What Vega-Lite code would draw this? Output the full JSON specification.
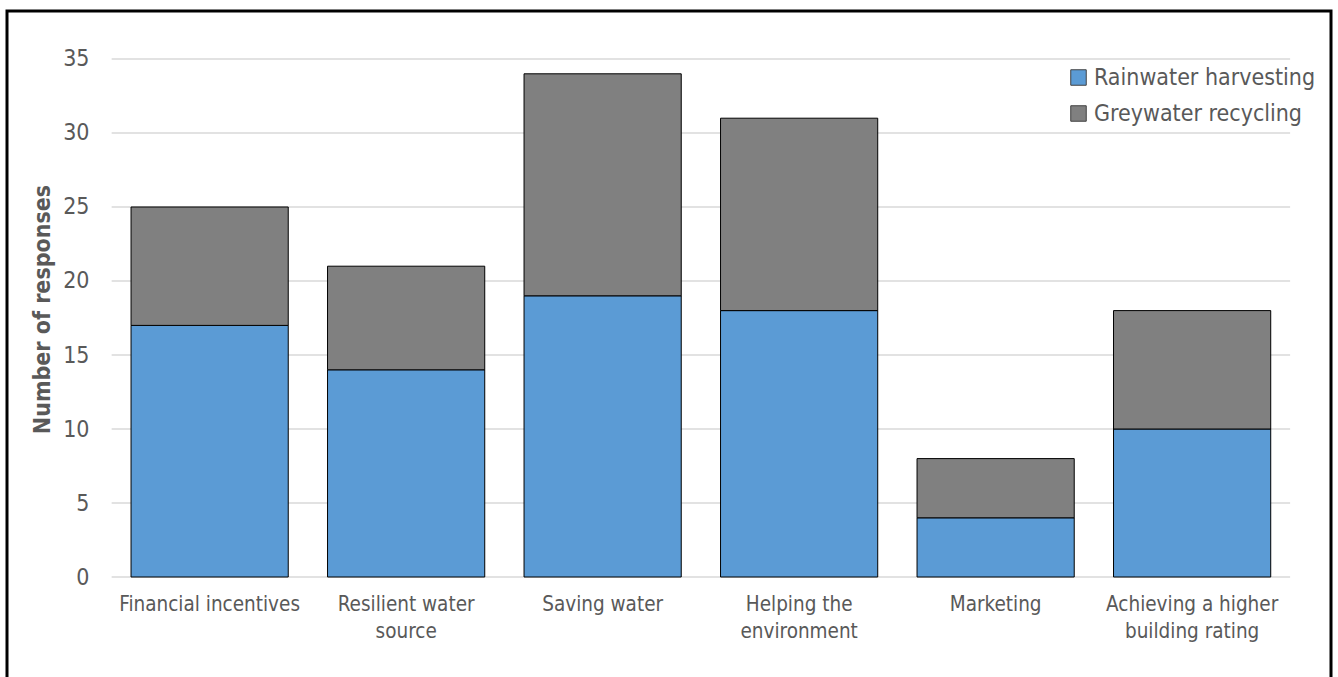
{
  "$schema": "https://vega.github.io/schema/vega-lite/v6.json",
  "width": 1324,
  "height": 681,
  "autosize": {"type": "none"},
  "padding": {"left": 7, "top": 11, "right": 7, "bottom": 0},
  "background": "white",
  "view": {"stroke": "black", "strokeWidth": 3, "fill": "white"},
  "datasets": {
    "responses": [
      {"reason": "Financial incentives", "system": "Rainwater harvesting", "count": 17},
      {"reason": "Financial incentives", "system": "Greywater recycling", "count": 8},
      {"reason": "Resilient water source", "system": "Rainwater harvesting", "count": 14},
      {"reason": "Resilient water source", "system": "Greywater recycling", "count": 7},
      {"reason": "Saving water", "system": "Rainwater harvesting", "count": 19},
      {"reason": "Saving water", "system": "Greywater recycling", "count": 15},
      {"reason": "Helping the environment", "system": "Rainwater harvesting", "count": 18},
      {"reason": "Helping the environment", "system": "Greywater recycling", "count": 13},
      {"reason": "Marketing", "system": "Rainwater harvesting", "count": 4},
      {"reason": "Marketing", "system": "Greywater recycling", "count": 4},
      {"reason": "Achieving a higher building rating", "system": "Rainwater harvesting", "count": 10},
      {"reason": "Achieving a higher building rating", "system": "Greywater recycling", "count": 8}
    ],
    "gridlines": [
      {"value": 0}, {"value": 5}, {"value": 10}, {"value": 15},
      {"value": 20}, {"value": 25}, {"value": 30}, {"value": 35}
    ]
  },
  "layer": [
    {
      "data": {"name": "gridlines"},
      "mark": {"type": "rule", "color": "#D9D9D9", "strokeWidth": 1.3, "xOffset": -98, "x2Offset": 98},
      "encoding": {
        "x": {"datum": "Financial incentives", "type": "nominal"},
        "x2": {"datum": "Achieving a higher building rating"},
        "y": {"field": "value", "type": "quantitative", "title": "Number of responses"}
      }
    },
    {
      "data": {"name": "responses"},
      "mark": {"type": "bar", "stroke": "#000000", "strokeWidth": 1},
      "encoding": {
        "x": {
          "field": "reason",
          "type": "nominal",
          "title": null,
          "sort": null,
          "scale": {
            "domain": ["Financial incentives", "Resilient water source", "Saving water", "Helping the environment", "Marketing", "Achieving a higher building rating"],
            "paddingInner": 0.2,
            "paddingOuter": 0.469,
            "align": 0.673
          },
          "axis": {
            "offset": -115,
            "domain": false,
            "ticks": false,
            "tickSize": 0,
            "labelAngle": 0,
            "labelAlign": "center",
            "labelBaseline": "top",
            "labelPadding": 17,
            "labelFontSize": 20.5,
            "labelLineHeight": 27,
            "labelColor": "#595959",
            "labelLimit": 300,
            "labelExpr": "datum.label == 'Resilient water source' ? ['Resilient water', 'source'] : datum.label == 'Helping the environment' ? ['Helping the', 'environment'] : datum.label == 'Achieving a higher building rating' ? ['Achieving a higher', 'building rating'] : datum.label"
          }
        },
        "y": {
          "field": "count",
          "type": "quantitative",
          "stack": "zero",
          "title": "Number of responses",
          "scale": {"domain": [-7.77, 38.243], "nice": false, "zero": false},
          "axis": {
            "offset": -105,
            "values": [0, 5, 10, 15, 20, 25, 30, 35],
            "grid": false,
            "domain": false,
            "ticks": false,
            "tickSize": 0,
            "labelPadding": 23,
            "labelFontSize": 23,
            "labelColor": "#595959",
            "titleFontSize": 23,
            "titleFontWeight": "bold",
            "titleColor": "#595959",
            "titlePadding": 8,
            "titleY": 298
          }
        },
        "color": {
          "field": "system",
          "type": "nominal",
          "sort": ["Rainwater harvesting", "Greywater recycling"],
          "scale": {"domain": ["Rainwater harvesting", "Greywater recycling"], "range": ["#5B9BD5", "#808080"]},
          "legend": {
            "title": null,
            "orient": "none",
            "legendX": 1060,
            "legendY": 55,
            "padding": 0,
            "symbolType": "square",
            "symbolSize": 240,
            "symbolStrokeColor": "#404040",
            "symbolStrokeWidth": 1,
            "labelFontSize": 23,
            "labelColor": "#595959",
            "labelOffset": 4,
            "rowPadding": 12,
            "labelLimit": 300
          }
        },
        "order": {"field": "system", "sort": "descending"}
      }
    }
  ],
  "config": {
    "font": "DejaVu Sans Condensed, DejaVu Sans, sans-serif",
    "axis": {"labelFont": "DejaVu Sans Condensed, DejaVu Sans, sans-serif", "titleFont": "DejaVu Sans Condensed, DejaVu Sans, sans-serif"},
    "legend": {"labelFont": "DejaVu Sans Condensed, DejaVu Sans, sans-serif"}
  }
}
